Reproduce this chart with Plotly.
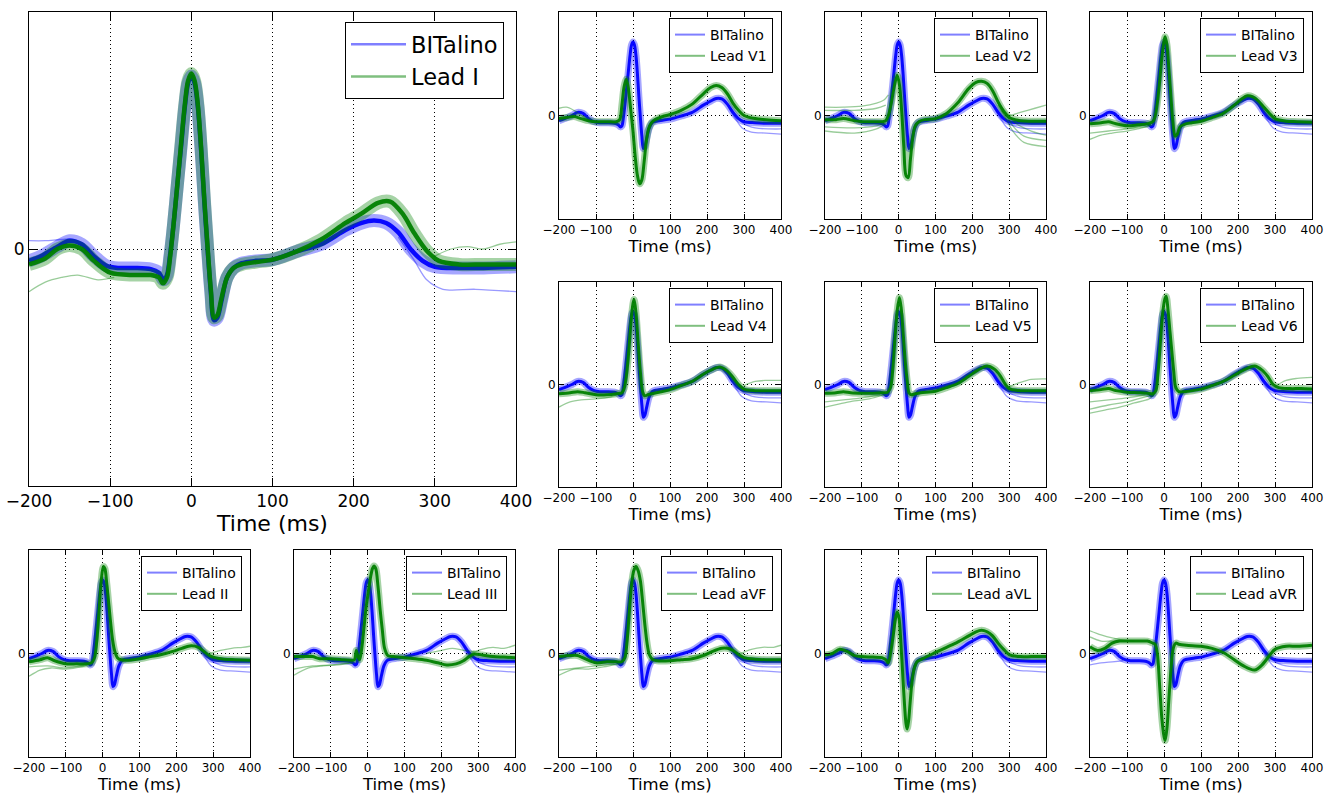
import plotly.graph_objects as go

W, H = 1333, 795

TIME_TICKS = [-200, -100, 0, 100, 200, 300, 400]
LEADS = ["I", "V1", "V2", "V3", "V4", "V5", "V6", "II", "III", "aVF", "aVL", "aVR"]

# ---- BITalino (blue) average beat, key points ----
T_BIT = [-200, -185, -165, -150, -135, -120, -105, -90, -70, -50, -40, -34, -30, -26, -22, -17, -13, -8, -4, 0,
         4, 8, 12, 16, 20, 24, 28, 32, 37, 44, 52, 62, 80, 100, 130, 160, 190, 210, 225, 240,
         255, 270, 285, 300, 330, 360, 400]
Y_BIT_LARGE = [-0.05, -0.03, 0.01, 0.035, 0.02, -0.03, -0.07, -0.08, -0.08, -0.085, -0.10, -0.13, -0.11, -0.02, 0.10,
               0.28, 0.42, 0.60, 0.70, 0.73, 0.70, 0.60, 0.42, 0.20, 0.0, -0.18, -0.30, -0.29, -0.22, -0.12,
               -0.08, -0.06, -0.05, -0.045, -0.01, 0.02, 0.08, 0.11, 0.12, 0.11, 0.07, 0.0, -0.05, -0.075, -0.08,
               -0.08, -0.075]
Y_BIT = [-0.05, -0.03, 0.0, 0.03, 0.02, -0.03, -0.06, -0.07, -0.07, -0.075, -0.09, -0.11, -0.10, -0.02, 0.10,
         0.27, 0.41, 0.58, 0.68, 0.71, 0.68, 0.58, 0.40, 0.18, -0.02, -0.20, -0.32, -0.30, -0.22, -0.12,
         -0.07, -0.055, -0.045, -0.035, -0.005, 0.03, 0.10, 0.14, 0.165, 0.16, 0.11, 0.03, -0.03, -0.06, -0.07,
         -0.075, -0.075]

# ---- 12-lead ECG (green) average beats ----
T_I = [-200, -180, -165, -150, -135, -120, -100, -70, -50, -40, -35, -30, -26, -22, -17, -13, -8, -4, 0, 4,
       8, 12, 16, 20, 24, 28, 32, 37, 44, 52, 62, 80, 100, 130, 160, 190, 210, 230, 245, 260,
       275, 290, 305, 330, 360, 400]
Y_I = [-0.065, -0.04, 0.0, 0.015, 0.0, -0.05, -0.10, -0.11, -0.11, -0.12, -0.145, -0.12, -0.03, 0.10, 0.28,
       0.43, 0.61, 0.71, 0.74, 0.71, 0.61, 0.43, 0.21, 0.01, -0.17, -0.29, -0.28, -0.21, -0.12, -0.08,
       -0.065, -0.055, -0.045, -0.01, 0.04, 0.11, 0.15, 0.195, 0.20, 0.15, 0.065, -0.007, -0.05, -0.065,
       -0.065, -0.065]

T_V1 = [-200, -180, -160, -140, -120, -100, -70, -45, -36, -30, -24, -18, -12, -6, 0, 6, 12, 18, 24, 30,
        36, 42, 50, 60, 80, 100, 130, 160, 190, 210, 225, 240, 255, 270, 285, 300, 330, 360, 400]
Y_V1 = [-0.03, -0.02, -0.01, -0.03, -0.05, -0.06, -0.06, -0.06, -0.04, 0.10, 0.28, 0.35, 0.25, 0.05, -0.15,
        -0.40, -0.58, -0.66, -0.62, -0.45, -0.25, -0.13, -0.07, -0.04, -0.01, 0.01, 0.05, 0.11, 0.21, 0.27,
        0.29, 0.27, 0.21, 0.12, 0.05, 0.0, -0.03, -0.04, -0.05]

T_V2 = [-200, -170, -150, -120, -100, -70, -45, -35, -28, -20, -12, -4, 2, 8, 14, 20, 26, 32, 38, 45,
        55, 70, 100, 130, 160, 190, 210, 225, 240, 255, 270, 285, 300, 330, 360, 400]
Y_V2 = [-0.04, -0.04, -0.03, -0.05, -0.06, -0.06, -0.06, -0.05, 0.0, 0.12, 0.28, 0.39, 0.30, 0.05, -0.30,
        -0.58, -0.60, -0.42, -0.22, -0.10, -0.06, -0.04, -0.03, 0.02, 0.12, 0.26, 0.32, 0.33, 0.31, 0.24,
        0.13, 0.04, -0.02, -0.05, -0.055, -0.055]

T_V3 = [-200, -170, -150, -130, -100, -70, -45, -30, -24, -18, -12, -6, 0, 3, 8, 13, 18, 24, 30, 36,
        43, 55, 75, 100, 130, 160, 190, 210, 225, 240, 255, 270, 285, 300, 330, 360, 400]
Y_V3 = [-0.08, -0.07, -0.06, -0.08, -0.10, -0.09, -0.08, -0.06, -0.01, 0.12, 0.32, 0.55, 0.72, 0.76, 0.68,
        0.46, 0.22, -0.06, -0.20, -0.18, -0.11, -0.085, -0.07, -0.055, -0.02, 0.02, 0.10, 0.16, 0.19, 0.18,
        0.14, 0.08, 0.02, -0.03, -0.055, -0.06, -0.065]

T_V4 = [-200, -170, -150, -130, -100, -70, -45, -30, -24, -18, -12, -6, 0, 3, 8, 14, 20, 26, 32, 40,
        50, 70, 100, 130, 160, 190, 210, 235, 255, 270, 285, 300, 330, 360, 400]
Y_V4 = [-0.09, -0.08, -0.07, -0.08, -0.10, -0.10, -0.09, -0.08, -0.04, 0.08, 0.30, 0.58, 0.79, 0.83, 0.70,
        0.40, 0.12, -0.07, -0.11, -0.10, -0.09, -0.075, -0.05, -0.01, 0.03, 0.10, 0.14, 0.17, 0.13, 0.07,
        0.0, -0.045, -0.06, -0.06, -0.06]

T_V5 = [-200, -170, -150, -130, -100, -70, -45, -30, -22, -16, -10, -4, 2, 7, 13, 18, 23, 28, 34, 45,
        60, 100, 130, 160, 190, 215, 240, 260, 275, 290, 300, 330, 360, 400]
Y_V5 = [-0.085, -0.08, -0.07, -0.08, -0.085, -0.085, -0.08, -0.075, -0.03, 0.15, 0.45, 0.72, 0.85, 0.74,
        0.46, 0.22, 0.04, -0.08, -0.10, -0.09, -0.08, -0.065, -0.03, 0.01, 0.08, 0.14, 0.18, 0.15, 0.09,
        0.0, -0.04, -0.06, -0.06, -0.06]

T_V6 = [-200, -170, -150, -130, -100, -70, -45, -30, -22, -16, -10, -4, 2, 6, 11, 16, 21, 26, 32, 40,
        55, 100, 130, 160, 190, 215, 245, 265, 280, 295, 310, 340, 370, 400]
Y_V6 = [-0.06, -0.05, -0.04, -0.06, -0.075, -0.08, -0.085, -0.09, -0.06, 0.12, 0.40, 0.68, 0.83, 0.86,
        0.72, 0.52, 0.33, 0.14, -0.03, -0.07, -0.07, -0.045, -0.01, 0.03, 0.09, 0.14, 0.18, 0.14, 0.08,
        0.0, -0.03, -0.04, -0.04, -0.045]

T_II = [-200, -170, -150, -130, -100, -70, -45, -30, -22, -16, -10, -4, 2, 6, 11, 16, 21, 27, 33, 40,
        50, 65, 100, 130, 160, 190, 215, 240, 260, 275, 290, 305, 330, 360, 400]
Y_II = [-0.08, -0.06, -0.04, -0.07, -0.10, -0.10, -0.10, -0.09, -0.04, 0.12, 0.40, 0.70, 0.84, 0.82,
        0.68, 0.50, 0.32, 0.13, 0.02, -0.04, -0.06, -0.065, -0.05, -0.03, -0.01, 0.02, 0.05, 0.075, 0.06,
        0.02, -0.02, -0.04, -0.055, -0.06, -0.065]

T_III = [-200, -170, -150, -130, -100, -70, -45, -36, -31, -27, -22, -16, -10, -4, 2, 8, 13, 17, 22, 28,
         34, 40, 46, 55, 70, 100, 130, 160, 190, 215, 240, 260, 275, 290, 310, 340, 370, 400]
Y_III = [-0.03, -0.03, -0.03, -0.05, -0.05, -0.06, -0.065, -0.06, 0.03, -0.02, -0.06, 0.05, 0.25, 0.45,
         0.60, 0.74, 0.82, 0.845, 0.82, 0.65, 0.42, 0.22, 0.05, -0.02, -0.03, -0.04, -0.05, -0.065, -0.09,
         -0.11, -0.10, -0.07, -0.03, -0.005, -0.015, -0.03, -0.035, -0.04]

T_AVF = [-200, -170, -150, -130, -100, -70, -45, -30, -22, -16, -10, -4, 2, 8, 14, 20, 26, 32, 38, 44,
         52, 65, 100, 130, 160, 190, 215, 240, 255, 270, 285, 300, 330, 360, 400]
Y_AVF = [-0.03, -0.02, -0.02, -0.05, -0.09, -0.08, -0.08, -0.08, -0.04, 0.12, 0.40, 0.66, 0.80, 0.84,
         0.80, 0.70, 0.50, 0.28, 0.10, -0.01, -0.055, -0.07, -0.07, -0.06, -0.05, -0.02, 0.02, 0.05, 0.05,
         0.03, -0.01, -0.04, -0.055, -0.06, -0.06]

T_AVL = [-200, -180, -160, -140, -120, -100, -70, -45, -35, -28, -22, -15, -9, -4, 1, 6, 11, 16, 20, 23,
         27, 31, 36, 42, 50, 65, 100, 130, 160, 190, 210, 225, 240, 255, 270, 285, 300, 330, 360, 400]
Y_AVL = [-0.015, 0.0, 0.04, 0.02, -0.02, -0.03, -0.035, -0.04, -0.06, -0.09, 0.0, 0.17, 0.33, 0.40, 0.34,
         0.10, -0.20, -0.50, -0.68, -0.73, -0.65, -0.48, -0.28, -0.15, -0.08, -0.05, 0.01, 0.06, 0.11, 0.17,
         0.21, 0.225, 0.21, 0.17, 0.10, 0.04, -0.01, -0.03, -0.03, -0.03]

T_AVR = [-200, -180, -160, -140, -120, -100, -70, -45, -30, -24, -18, -12, -6, 0, 3, 8, 13, 19, 25, 32,
         40, 60, 100, 130, 160, 190, 215, 245, 265, 285, 300, 330, 360, 400]
Y_AVR = [0.065, 0.03, 0.05, 0.10, 0.12, 0.12, 0.12, 0.12, 0.10, 0.09, 0.0, -0.30, -0.62, -0.80, -0.84,
         -0.72, -0.45, -0.15, 0.05, 0.10, 0.09, 0.08, 0.07, 0.05, 0.01, -0.06, -0.12, -0.16, -0.11, -0.02,
         0.04, 0.07, 0.07, 0.08]

# ---- a few single beats that stray from the bundle (time list, value list) ----
OUT_BIT_LARGE = [([255, 275, 290, 310, 350, 400], [0.05, -0.05, -0.13, -0.17, -0.17, -0.18]),
                 ([-200, -180, -160, -145, -130], [0.035, 0.035, 0.04, 0.04, 0.0])]
OUT_BIT_SMALL = [([255, 275, 295, 320, 360, 400], [0.10, -0.02, -0.12, -0.16, -0.17, -0.18]),
                 ([260, 280, 300, 330, 400], [0.09, 0.0, -0.08, -0.12, -0.13])]
OUT_I = [([-200, -180, -160, -140, -115, -95], [-0.18, -0.14, -0.12, -0.11, -0.13, -0.12]),
         ([300, 320, 340, 360, 380, 400], [-0.03, 0.0, 0.01, 0.0, 0.02, 0.03])]
OUT_V1 = [([-200, -180, -160, -130], [0.07, 0.08, 0.05, -0.02])]
OUT_V2 = [([-200, -150, -100, -60, -40, -28], [0.08, 0.08, 0.09, 0.12, 0.15, 0.2]),
          ([-200, -120, -60, -35], [0.05, 0.05, 0.07, 0.1]),
          ([-200, -120, -60, -35], [-0.15, -0.17, -0.13, -0.08]),
          ([-200, -120, -60, -35], [-0.11, -0.12, -0.10, -0.07]),
          ([270, 290, 310, 340, 400], [0.10, -0.02, -0.15, -0.26, -0.30]),
          ([270, 290, 310, 340, 400], [0.12, 0.02, -0.10, -0.20, -0.24]),
          ([270, 290, 320, 360, 400], [0.12, 0.04, -0.08, -0.15, -0.19]),
          ([280, 300, 330, 370, 400], [0.04, 0.0, 0.03, 0.07, 0.10])]
OUT_V3 = [([-200, -170, -140, -100, -60, -35], [-0.23, -0.19, -0.17, -0.15, -0.12, -0.09]),
          ([-200, -150, -100, -50], [-0.17, -0.15, -0.13, -0.09])]
OUT_V4 = [([-200, -170, -140, -100, -60, -35], [-0.22, -0.17, -0.15, -0.14, -0.12, -0.09]),
          ([300, 330, 360, 400], [-0.01, 0.03, 0.04, 0.04])]
OUT_V5 = [([-200, -160, -120, -80, -40], [-0.22, -0.19, -0.16, -0.14, -0.10]),
          ([-200, -150, -100, -50], [-0.17, -0.15, -0.13, -0.10]),
          ([300, 330, 360, 400], [-0.02, 0.02, 0.05, 0.055])]
OUT_V6 = [([-200, -160, -120, -80, -40, -28], [-0.28, -0.25, -0.22, -0.18, -0.14, -0.10]),
          ([-200, -150, -100, -50, -30], [-0.24, -0.20, -0.17, -0.12, -0.10]),
          ([-200, -150, -100, -50], [-0.17, -0.15, -0.13, -0.10]),
          ([300, 330, 360, 400], [-0.02, 0.04, 0.06, 0.07])]
OUT_II = [([-200, -170, -140, -100, -60, -35], [-0.22, -0.16, -0.14, -0.15, -0.13, -0.10]),
          ([-200, -150, -100, -50], [-0.13, -0.12, -0.14, -0.11]),
          ([290, 320, 350, 380, 400], [0.0, 0.03, 0.05, 0.06, 0.07])]
OUT_III = [([-200, -160, -120, -80, -40], [-0.21, -0.14, -0.12, -0.11, -0.09]),
           ([-200, -150, -100, -50], [-0.15, -0.12, -0.11, -0.09]),
           ([280, 310, 340, 370, 400], [0.0, 0.04, 0.06, 0.05, 0.08]),
           ([160, 200, 230, 260, 290], [0.0, 0.03, 0.05, 0.03, 0.02])]
OUT_AVF = [([-200, -160, -120, -80, -40], [-0.21, -0.15, -0.15, -0.13, -0.10]),
           ([-200, -150, -100, -50], [-0.16, -0.14, -0.12, -0.10]),
           ([290, 320, 350, 380, 400], [0.0, 0.04, 0.06, 0.06, 0.08]),
           ([150, 200, 240, 270], [-0.03, 0.0, 0.05, 0.04])]
OUT_AVL = []
OUT_AVR = [([-200, -170, -140, -110, -80], [0.22, 0.18, 0.15, 0.13, 0.12]),
           ([-200, -170, -140, -100], [0.16, 0.12, 0.12, 0.12])]
OUT_BIT_AVR = [([-200, -170, -140, -110], [-0.11, -0.09, -0.08, -0.07])]

GREEN = {"I": (T_I, Y_I, OUT_I), "V1": (T_V1, Y_V1, OUT_V1), "V2": (T_V2, Y_V2, OUT_V2),
         "V3": (T_V3, Y_V3, OUT_V3), "V4": (T_V4, Y_V4, OUT_V4), "V5": (T_V5, Y_V5, OUT_V5),
         "V6": (T_V6, Y_V6, OUT_V6), "II": (T_II, Y_II, OUT_II), "III": (T_III, Y_III, OUT_III),
         "aVF": (T_AVF, Y_AVF, OUT_AVF), "aVL": (T_AVL, Y_AVL, OUT_AVL), "aVR": (T_AVR, Y_AVR, OUT_AVR)}

# ---- panel boxes in pixels: left, right, top, bottom ----
BOXES = {"I": (29, 516, 12, 486),
         "V1": (559, 781, 12, 219), "V2": (825, 1046, 12, 219), "V3": (1090, 1312, 12, 219),
         "V4": (559, 781, 282, 487), "V5": (825, 1046, 282, 487), "V6": (1090, 1312, 282, 487),
         "II": (29, 250, 550, 757), "III": (294, 515, 550, 757), "aVF": (559, 781, 550, 757),
         "aVL": (825, 1046, 550, 757), "aVR": (1090, 1312, 550, 757)}

BLUE_CORE, BLUE_HALO, BLUE_THIN = "rgba(0,0,255,0.95)", "rgba(0,0,255,0.35)", "rgba(0,0,255,0.40)"
GREEN_CORE, GREEN_HALO, GREEN_THIN = "rgba(0,128,0,0.95)", "rgba(0,128,0,0.35)", "rgba(0,128,0,0.40)"
FONT = "DejaVu Sans"

fig = go.Figure()
layout = dict(width=W, height=H, autosize=False,
              margin=dict(l=0, r=0, t=0, b=0, pad=0, autoexpand=False),
              paper_bgcolor="white", plot_bgcolor="white", showlegend=True,
              font=dict(family=FONT, color="black"))

for i, lead in enumerate(LEADS):
    n = "" if i == 0 else str(i + 1)
    xa, ya = "x" + n, "y" + n
    leg = "legend" + n
    big = lead == "I"
    l, r, t, b = BOXES[lead]
    tick_fs = 17 if big else 12
    title_fs = 22 if big else 16.5
    leg_fs = 22.5 if big else 14
    halo_w, core_w = (13, 4.5) if big else (7, 3)

    ybit = Y_BIT_LARGE if big else Y_BIT
    bit_out = OUT_BIT_LARGE if big else OUT_BIT_SMALL
    if lead == "aVR":
        bit_out = bit_out + OUT_BIT_AVR
    tg, yg, gout = GREEN[lead]

    def add(tx, ty, color, width):
        fig.add_trace(go.Scatter(x=tx, y=ty, mode="lines", xaxis=xa, yaxis=ya, showlegend=False,
                                 hoverinfo="skip",
                                 line=dict(color=color, width=width, shape="spline", smoothing=0.9)))

    # blue first
    for ot, oy in bit_out:
        add(ot, oy, BLUE_THIN, 1.3)
    add(T_BIT, ybit, BLUE_HALO, halo_w)
    add(T_BIT, ybit, BLUE_CORE, core_w)
    # green on top
    for ot, oy in gout:
        add(ot, oy, GREEN_THIN, 1.3)
    add(tg, yg, GREEN_HALO, halo_w)
    add(tg, yg, GREEN_CORE, core_w)

    # legend entries
    for name, col in (("BITalino", "rgba(0,0,255,0.5)"), ("Lead " + lead, "rgba(0,128,0,0.5)")):
        fig.add_trace(go.Scatter(x=[None], y=[None], mode="lines", name=name, xaxis=xa, yaxis=ya,
                                 legend=leg, line=dict(color=col, width=2.5 if big else 2)))

    layout[leg] = dict(x=(r - (12 if big else 8)) / W, y=1 - (t + (10 if big else 6)) / H,
                       xanchor="right", yanchor="top", bgcolor="white", bordercolor="black",
                       borderwidth=1, font=dict(family=FONT, size=leg_fs, color="black"),
                       itemwidth=55 if big else 30, tracegroupgap=0)

    axis_common = dict(showline=True, linecolor="black", linewidth=1, mirror="ticks",
                       ticks="inside", ticklen=8 if big else 5, tickwidth=1, tickcolor="black",
                       showgrid=True, gridcolor="black", gridwidth=1, griddash="1px,3px",
                       zeroline=False, automargin=False,
                       tickfont=dict(family=FONT, size=tick_fs, color="black"))
    layout["xaxis" + n] = dict(axis_common, domain=[l / W, r / W], range=[-200, 400],
                               tickvals=TIME_TICKS, anchor=ya,
                               title=dict(text="Time (ms)", font=dict(family=FONT, size=title_fs),
                                          standoff=2 if big else 1))
    layout["yaxis" + n] = dict(axis_common, domain=[1 - b / H, 1 - t / H], range=[-1, 1],
                               tickvals=[0], ticktext=["0"], anchor=xa)

fig.update_layout(**layout)
fig.write_html("out.html", config={"displayModeBar": False, "staticPlot": True},
               post_script="document.body.style.margin='0';document.body.style.overflow='hidden';")
